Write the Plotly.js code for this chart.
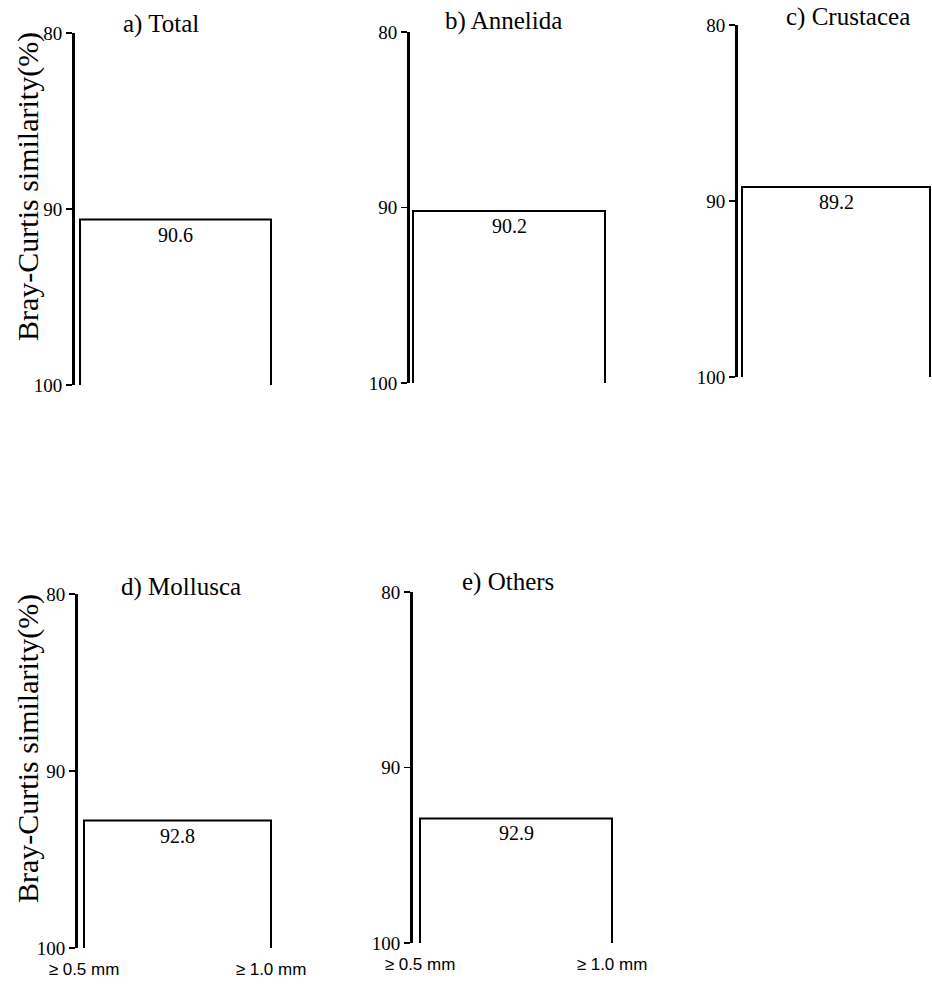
<!DOCTYPE html>
<html>
<head>
<meta charset="utf-8">
<script src="https://cdn.plot.ly/plotly-3.0.1.min.js"></script>
<style>
  html, body { margin: 0; padding: 0; background: #fff; }
  #chart { width: 932px; height: 985px; }
</style>
</head>
<body>
<div id="chart"></div>
<script>
// Group dendrograms: the two mesh sizes joined at their Bray-Curtis similarity
const panelTitles = ['a) Total', 'b) Annelida', 'c) Crustacea', 'd) Mollusca', 'e) Others'];
const leaves = ['\u2265 0.5 mm', '\u2265 1.0 mm'];
const similarity = [90.6, 90.2, 89.2, 92.8, 92.9];
const yTicks = [80, 90, 100];
const yTitle = 'Bray-Curtis similarity(%)';

const W = 932, H = 985;
const SERIF = 'Liberation Serif';
const SANS = 'Liberation Sans';

// Pixel frame of each panel: axis line, the two leaves, top (80) and bottom (100)
const frames = [
  { axis: 75,  left: 80,  right: 271, top: 33,  bottom: 385, tx: 161, ty: 24,  showLeaves: false, hasTitle: true },
  { axis: 410, left: 413, right: 605, top: 32,  bottom: 383, tx: 503, ty: 21,  showLeaves: false, hasTitle: false },
  { axis: 738, left: 742, right: 930, top: 25,  bottom: 377, tx: 848, ty: 17,  showLeaves: false, hasTitle: false },
  { axis: 78,  left: 84,  right: 271, top: 594, bottom: 948, tx: 181, ty: 587, showLeaves: true,  hasTitle: true },
  { axis: 413, left: 420, right: 612, top: 592, bottom: 943, tx: 508, ty: 582, showLeaves: true,  hasTitle: false }
];

const traces = [];
const layout = {
  width: W, height: H,
  margin: { l: 0, r: 0, t: 0, b: 0 },
  paper_bgcolor: '#fff', plot_bgcolor: 'rgba(0,0,0,0)',
  showlegend: false,
  font: { family: SERIF, color: '#000' },
  annotations: []
};

frames.forEach((f, i) => {
  const n = i + 1;
  const xa = 'xaxis' + (n === 1 ? '' : n);
  const ya = 'yaxis' + (n === 1 ? '' : n);
  const xr = 'x' + (n === 1 ? '' : n);
  const yr = 'y' + (n === 1 ? '' : n);

  const unit = f.right - f.left;            // px per leaf step
  const xmin = -(f.left - f.axis) / unit;
  const xmax = 1 + 2 / unit;
  const x1px = f.right + 2;

  // dendrogram link: leaf 0 up to the join level, across, down to leaf 1
  const v = similarity[i];
  traces.push({
    type: 'scatter', mode: 'lines',
    x: [0, 0, 1, 1],
    y: [yTicks[2], v, v, yTicks[2]],
    xaxis: xr, yaxis: yr,
    line: { color: '#000', width: 2 },
    hoverinfo: 'skip', cliponaxis: false
  });

  layout[xa] = {
    domain: [f.axis / W, x1px / W],
    range: [xmin, xmax],
    anchor: yr,
    showline: false, showgrid: false, zeroline: false,
    ticks: '',
    tickvals: [0, 1],
    ticktext: leaves,
    showticklabels: f.showLeaves,
    tickfont: { family: SANS, size: 17, color: '#000' },
    ticklabelstandoff: 9,
    fixedrange: true, automargin: false
  };
  layout[ya] = {
    domain: [1 - f.bottom / H, 1 - f.top / H],
    range: [yTicks[2], yTicks[0]],
    anchor: xr,
    showline: true, linecolor: '#000', linewidth: 3,
    showgrid: false, zeroline: false,
    ticks: 'outside', ticklen: 6, tickwidth: 1.5, tickcolor: '#000',
    tickvals: yTicks,
    tickfont: { family: SERIF, size: 19, color: '#000' },
    ticklabelstandoff: 0,
    fixedrange: true, automargin: false
  };

  // join level written under the link
  layout.annotations.push({
    xref: xr, yref: yr, x: 0.5, y: v,
    text: v.toFixed(1), showarrow: false,
    xanchor: 'center', yanchor: 'top', yshift: -2,
    font: { family: SERIF, size: 20, color: '#000' }
  });

  // panel title
  layout.annotations.push({
    xref: 'paper', yref: 'paper', x: f.tx / W, y: 1 - f.ty / H,
    text: panelTitles[i], showarrow: false,
    xanchor: 'center', yanchor: 'middle',
    font: { family: SERIF, size: 25, color: '#000' }
  });

  // y axis title on the first panel of each row
  if (f.hasTitle) {
    layout.annotations.push({
      xref: 'paper', yref: 'paper',
      x: 28 / W, y: 1 - ((f.top + f.bottom) / 2 - 22) / H,
      text: yTitle, showarrow: false, textangle: -90,
      xanchor: 'center', yanchor: 'middle',
      font: { family: SERIF, size: 30, color: '#000' }
    });
  }
});

Plotly.newPlot('chart', traces, layout, { staticPlot: true, displayModeBar: false });
</script>
</body>
</html>
